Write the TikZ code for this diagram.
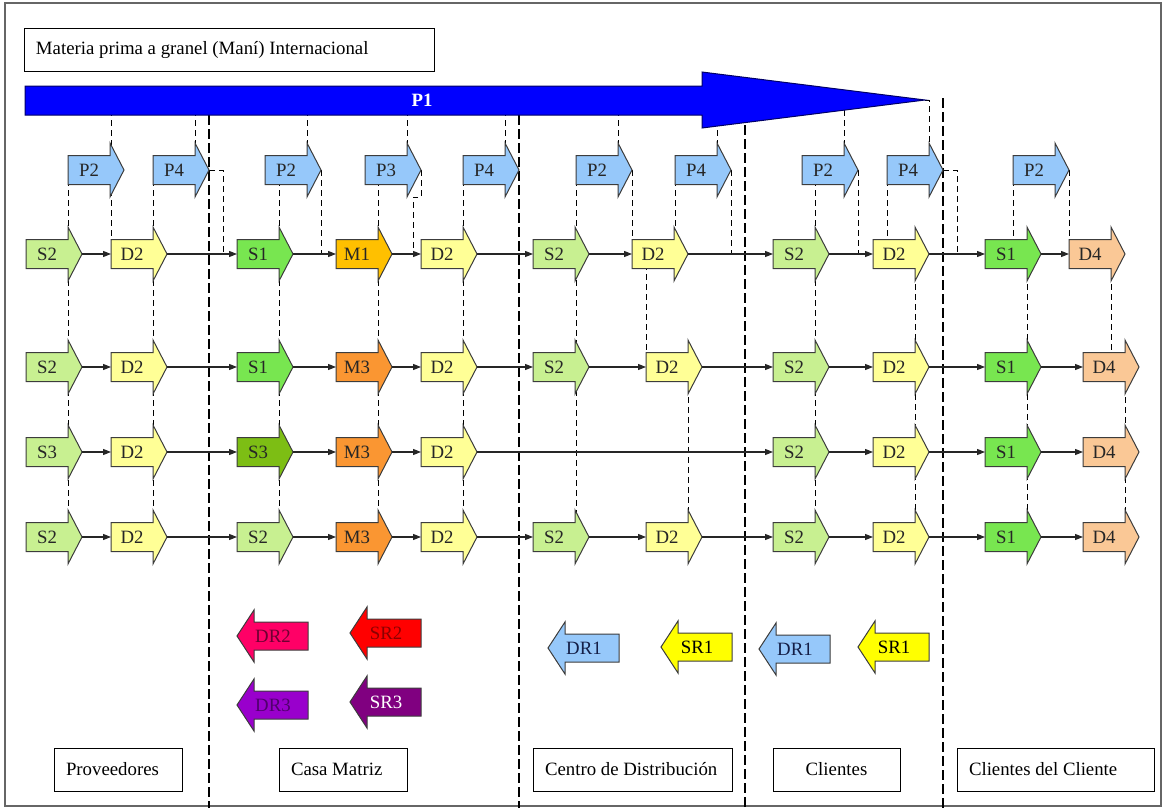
\documentclass[tikz,border=0pt]{standalone}
\usepackage{fontspec}
\setmainfont{Liberation Serif}
\usetikzlibrary{arrows.meta}
\pgfdeclarelayer{background}
\pgfsetlayers{background,main}

\definecolor{cS2}{RGB}{200,240,145}
\definecolor{cS1}{RGB}{120,230,80}
\definecolor{cS3}{RGB}{125,190,20}
\definecolor{cD2}{RGB}{255,255,150}
\definecolor{cM1}{RGB}{255,192,0}
\definecolor{cM3}{RGB}{250,150,50}
\definecolor{cD4}{RGB}{250,200,150}
\definecolor{cP}{RGB}{150,200,250}
\definecolor{cP1}{RGB}{0,0,255}
\definecolor{cDR2}{RGB}{255,0,102}
\definecolor{cSR2}{RGB}{255,0,0}
\definecolor{cDR3}{RGB}{153,0,204}
\definecolor{cSR3}{RGB}{128,0,128}
\definecolor{cSR1}{RGB}{255,255,0}
\definecolor{edgec}{RGB}{60,60,60}
\definecolor{tDR2}{RGB}{110,0,50}
\definecolor{tSR2}{RGB}{140,0,0}
\definecolor{tDR3}{RGB}{80,0,110}
\definecolor{tDR1}{RGB}{20,30,70}

\newcommand{\RArr}[5]{%
  \filldraw[abox,fill=#4] (#2,#3-14.5) -- (#2+42,#3-14.5) -- (#2+42,#3-27) -- (#2+56,#3) -- (#2+42,#3+27) -- (#2+42,#3+14.5) -- (#2,#3+14.5) -- cycle;
  \node[alabel] (#1) at (#2+21,#3) {#5};
  \coordinate (#1-in) at (#2,#3);
  \coordinate (#1-hb) at (#2+42,#3);
  \coordinate (#1-out) at (#2+56,#3);
}
\newcommand{\LArr}[6]{%
  \filldraw[abox,fill=#4] (#2,#3) -- (#2+17,#3-26) -- (#2+17,#3-14) -- (#2+71,#3-14) -- (#2+71,#3+14) -- (#2+17,#3+14) -- (#2+17,#3+26) -- cycle;
  \node[alabel,text=#6] (#1) at (#2+36,#3) {#5};
}

\begin{document}
\begin{tikzpicture}[x=0.75pt,y=-0.75pt,
  font=\fontsize{14.1}{16}\selectfont,
  abox/.style={draw=edgec,line width=0.75pt,line join=miter},
  alabel/.style={inner sep=0pt,text=black!85},
  lbox/.style={draw=black,line width=0.75pt,minimum height=32.25pt,inner xsep=9pt,inner ysep=0pt},
  conn/.style={draw=black!85,line width=0.8pt,-{Triangle[length=6pt,width=4.5pt]}},
  dsh/.style={draw=black,line width=0.75pt,dash pattern=on 4.5pt off 3pt},
  sep/.style={draw=black,line width=0.95pt,dash pattern=on 7.5pt off 3pt}]
\useasboundingbox (0,0) rectangle (1165,810);

% title and big P1 arrow
\node[lbox] (title) at (229,49.5) {\makebox[289.5pt][l]{Materia prima a granel (Maní) Internacional}};
\filldraw[fill=cP1,draw=black!60!blue,line width=0.75pt] (25,86) -- (702,86) -- (702,72) -- (925,100) -- (702,128) -- (702,115) -- (25,115) -- cycle;
\node[font=\fontsize{14.1}{16}\selectfont\bfseries,text=white,inner sep=0pt] (P1) at (422,100) {P1};
\coordinate (P1tip) at (925,100);

% P arrows
\RArr{pA}{68}{170}{cP}{P2}
\RArr{pB}{153}{170}{cP}{P4}
\RArr{pC}{265}{170}{cP}{P2}
\RArr{pD}{365}{170}{cP}{P3}
\RArr{pE}{463}{170}{cP}{P4}
\RArr{pF}{576}{170}{cP}{P2}
\RArr{pG}{675}{170}{cP}{P4}
\RArr{pH}{802}{170}{cP}{P2}
\RArr{pI}{887}{170}{cP}{P4}
\RArr{pJ}{1013}{170}{cP}{P2}

% row 1
\RArr{r1a}{26}{254}{cS2}{S2}
\RArr{r1b}{111}{254}{cD2}{D2}
\RArr{r1c}{237}{254}{cS1}{S1}
\RArr{r1d}{336}{254}{cM1}{M1}
\RArr{r1e}{421}{254}{cD2}{D2}
\RArr{r1f}{533}{254}{cS2}{S2}
\RArr{r1g}{632}{254}{cD2}{D2}
\RArr{r1h}{773}{254}{cS2}{S2}
\RArr{r1i}{873}{254}{cD2}{D2}
\RArr{r1j}{985}{254}{cS1}{S1}
\RArr{r1k}{1069}{254}{cD4}{D4}
% row 2
\RArr{r2a}{26}{367}{cS2}{S2}
\RArr{r2b}{111}{367}{cD2}{D2}
\RArr{r2c}{237}{367}{cS1}{S1}
\RArr{r2d}{336}{367}{cM3}{M3}
\RArr{r2e}{421}{367}{cD2}{D2}
\RArr{r2f}{533}{367}{cS2}{S2}
\RArr{r2g}{646}{367}{cD2}{D2}
\RArr{r2h}{773}{367}{cS2}{S2}
\RArr{r2i}{873}{367}{cD2}{D2}
\RArr{r2j}{985}{367}{cS1}{S1}
\RArr{r2k}{1083}{367}{cD4}{D4}
% row 3
\RArr{r3a}{26}{452}{cS2}{S3}
\RArr{r3b}{111}{452}{cD2}{D2}
\RArr{r3c}{237}{452}{cS3}{S3}
\RArr{r3d}{336}{452}{cM3}{M3}
\RArr{r3e}{421}{452}{cD2}{D2}
\RArr{r3h}{773}{452}{cS2}{S2}
\RArr{r3i}{873}{452}{cD2}{D2}
\RArr{r3j}{985}{452}{cS1}{S1}
\RArr{r3k}{1083}{452}{cD4}{D4}
% row 4
\RArr{r4a}{26}{537}{cS2}{S2}
\RArr{r4b}{111}{537}{cD2}{D2}
\RArr{r4c}{237}{537}{cS2}{S2}
\RArr{r4d}{336}{537}{cM3}{M3}
\RArr{r4e}{421}{537}{cD2}{D2}
\RArr{r4f}{533}{537}{cS2}{S2}
\RArr{r4g}{646}{537}{cD2}{D2}
\RArr{r4h}{773}{537}{cS2}{S2}
\RArr{r4i}{873}{537}{cD2}{D2}
\RArr{r4j}{985}{537}{cS1}{S1}
\RArr{r4k}{1083}{537}{cD4}{D4}

% horizontal flow connectors
\foreach \a/\b in {a/b,b/c,c/d,d/e,e/f,f/g,g/h,h/i,i/j,j/k}{
  \foreach \r in {1,2,4}{\draw[conn] (r\r\a-out) -- (r\r\b-in);}}
\foreach \a/\b in {a/b,b/c,c/d,d/e,e/h,h/i,i/j,j/k}{\draw[conn] (r3\a-out) -- (r3\b-in);}

% return arrows
\LArr{dr2}{237}{636}{cDR2}{DR2}{tDR2}
\LArr{sr2}{350}{633}{cSR2}{SR2}{tSR2}
\LArr{dr3}{237}{705}{cDR3}{DR3}{tDR3}
\LArr{sr3}{350}{702}{cSR3}{SR3}{white}
\LArr{dr1a}{548}{648}{cP}{DR1}{tDR1}
\LArr{sr1a}{661}{647}{cSR1}{SR1}{black}
\LArr{dr1b}{759}{649}{cP}{DR1}{tDR1}
\LArr{sr1b}{858}{647}{cSR1}{SR1}{black}

% bottom labels
\node[lbox] (prov) at (118,769.5) {\makebox[78pt][l]{Proveedores}};
\node[lbox] (casa) at (343,769.5) {\makebox[78pt][l]{Casa Matriz}};
\node[lbox] (cdist) at (632.5,769.5) {\makebox[131.25pt][l]{Centro de Distribución}};
\node[lbox] (cli) at (836.5,769.5) {\makebox[77.25pt][c]{Clientes}};
\node[lbox] (clicli) at (1055.5,769.5) {\makebox[129.75pt][l]{Clientes del Cliente}};

\coordinate (e1) at (223,254);
\coordinate (e2) at (413,254);
\coordinate (e3) at (957,254);

\begin{pgfonlayer}{background}
\draw[line width=1.2pt,draw=black!60] (5,3) rectangle (1161,806);
% section separators
\draw[sep] (209,115) -- (209,808);
\draw[sep] (519,115) -- (519,808);
\draw[sep] (745,125) -- (745,808);
\draw[sep] (943,98) -- (943,808);
% dashed links
\draw[dsh] (pA-in) -- (pA-in |- r4a-in);
\draw[dsh] (r1b-in |- P1) -- (r1b-in);
\draw[dsh] (pB-in) -- (pB-in |- r4b-in);
\draw[dsh] (pB-hb |- P1) -- (pB-hb);
\draw[dsh] (pB-out) -| (e1);
\draw[dsh] (r1c-hb |- pC) -- (r4c-hb);
\draw[dsh] (pC-hb |- P1) -- (pC-hb);
\draw[dsh] (pC-out) -- (pC-out |- r1c-in);
\draw[dsh] (r1d-hb |- pD) -- (r4d-hb);
\draw[dsh] (pD-hb |- P1) -- (pD-hb);
\draw[dsh] (pD-out) -- ++(0,27) -| (e2);
\draw[dsh] (pE-in) -- (pE-in |- r4e-in);
\draw[dsh] (pE-hb |- P1) -- (pE-hb);
\draw[dsh] (pF-in) -- (pF-in |- r4f-in);
\draw[dsh] (pF-hb |- P1) -- (pF-hb);
\draw[dsh] (pF-out) -- (pF-out |- r1g-in);
\draw[dsh] (pG-in) -- (pG-in |- r1g-in);
\draw[dsh] (pG-hb |- P1) -- (pG-hb);
\draw[dsh] (pG-out) -- (pG-out |- r1g-in);
\draw[dsh] (r2g-in |- r1g) -- (r2g-in);
\draw[dsh] (r2g-hb) -- (r4g-hb);
\draw[dsh] (r1h-hb |- pH) -- (r4h-hb);
\draw[dsh] (pH-hb |- P1) -- (pH-hb);
\draw[dsh] (pH-out) -- (pH-out |- r1h-in);
\draw[dsh] (pI-in) -- (pI-in |- r1i-in);
\draw[dsh] (r1i-hb) -- (r4i-hb);
\draw[dsh] (P1tip) -| (pI-hb);
\draw[dsh] (pI-out) -| (e3);
\draw[dsh] (pJ-in) -- (pJ-in |- r1j-in);
\draw[dsh] (r1j-hb) -- (r4j-hb);
\draw[dsh] (pJ-out) -- (pJ-out |- r1k-in);
\draw[dsh] (r1k-hb) -- (r1k-hb |- r2k-in);
\draw[dsh] (r2k-hb) -- (r4k-hb);
\end{pgfonlayer}
\end{tikzpicture}
\end{document}
